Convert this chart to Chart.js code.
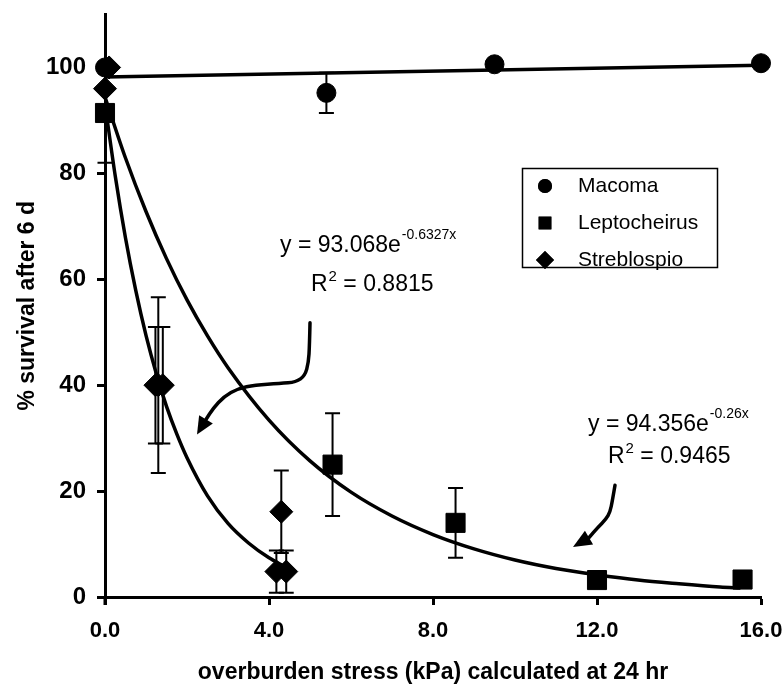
<!DOCTYPE html>
<html><head><meta charset="utf-8">
<script src="https://cdn.jsdelivr.net/npm/chart.js@4.4.1/dist/chart.umd.min.js"></script>
<style>html,body{margin:0;padding:0;background:#fff}#wrap{width:784px;height:689px}</style>
</head><body><div id="wrap"><canvas id="c"></canvas></div>
<script>
const FONT = "'Liberation Sans', Arial, Helvetica, sans-serif";

// ---- data ----
const seriesNames = ['Macoma', 'Leptocheirus', 'Streblospio'];

const macomaX = [0, 5.4, 9.5, 16];
const macomaY = [100, 95.2, 100.6, 100.8];
const macomaErr = [0, 3.8, 0, 0];

const leptoX = [0, 5.55, 8.55, 12, 15.55];
const leptoY = [91.4, 25.0, 14.0, 3.2, 3.3];
const leptoErr = [9.4, 9.7, 6.6, 0, 0];

const strebloX = [0.1, 0, 1.23, 1.3, 1.41, 4.18, 4.3, 4.42];
const strebloY = [100, 96, 40, 40, 40, 4.8, 16.1, 4.8];
const strebloErr = [0, 0, 11, 16.6, 11, 4.0, 7.8, 4.0];

// trend lines
const macTrendX = [0, 16];
const macTrendY = [98.2, 100.4];

const leptoTrendX = [0, 0.5, 1, 1.5, 2, 2.5, 3, 4, 5, 6, 7, 8, 9, 10, 11, 12, 13, 14, 15, 15.5];
const leptoTrendY = [94.4, 82.9, 72.8, 63.9, 56.1, 49.3, 43.3, 33.4, 25.7, 19.8, 15.3, 11.8, 9.1, 7.0, 5.4, 4.2, 3.2, 2.5, 1.9, 1.7];

const strebloTrendX = [0, 0.25, 0.5, 0.75, 1, 1.25, 1.5, 1.75, 2, 2.5, 3, 3.5, 4, 4.35];
const strebloTrendY = [93.1, 79.5, 67.8, 57.9, 49.4, 42.2, 36.0, 30.8, 26.3, 19.1, 13.9, 10.2, 7.4, 5.9];

const xTicks = [0, 4, 8, 12, 16];
const yTicks = [0, 20, 40, 60, 80, 100];

const eq1 = {main: 'y = 93.068e', sup: '-0.6327x', r2: '= 0.8815'};
const eq2 = {main: 'y = 94.356e', sup: '-0.26x', r2: '= 0.9465'};

// arrow paths in data units
const arrow1 = [[5.000,51.79],[4.988,47.46],[4.963,44.26],[4.878,41.81],[4.659,40.58],[4.268,40.30],[3.659,40.02],[3.244,39.36],[2.902,37.85],[2.634,35.59],[2.463,33.52],[2.244,30.70]];
const arrow2 = [[12.439,21.09],[12.378,18.27],[12.317,16.01],[12.220,14.69],[12.024,13.18],[11.805,11.21],[11.415,9.42]];

const pts = (xs, ys) => xs.map((x, i) => ({x, y: ys[i]}));

const errSets = [
  {xs: macomaX, ys: macomaY, es: macomaErr},
  {xs: leptoX, ys: leptoY, es: leptoErr},
  {xs: strebloX, ys: strebloY, es: strebloErr}
];

function drawArrow(ctx, chart, path) {
  const xs = chart.scales.x, ys = chart.scales.y;
  const p = path.map(([a, b]) => [xs.getPixelForValue(a), ys.getPixelForValue(b)]);
  const n = p.length;
  ctx.save();
  ctx.strokeStyle = '#000'; ctx.fillStyle = '#000';
  ctx.lineWidth = 3.5; ctx.lineJoin = 'round'; ctx.lineCap = 'round';
  ctx.beginPath();
  ctx.moveTo(p[0][0], p[0][1]);
  for (let i = 1; i < n - 2; i++) {
    const mx = (p[i][0] + p[i + 1][0]) / 2, my = (p[i][1] + p[i + 1][1]) / 2;
    ctx.quadraticCurveTo(p[i][0], p[i][1], mx, my);
  }
  ctx.lineTo(p[n - 2][0], p[n - 2][1]);
  ctx.stroke();
  const tip = p[n - 1], base = p[n - 2];
  const dx = tip[0] - base[0], dy = tip[1] - base[1];
  const L = Math.hypot(dx, dy), ux = dx / L, uy = dy / L;
  const hw = 8;
  ctx.beginPath();
  ctx.moveTo(tip[0], tip[1]);
  ctx.lineTo(base[0] - uy * hw, base[1] + ux * hw);
  ctx.lineTo(base[0] + uy * hw, base[1] - ux * hw);
  ctx.closePath();
  ctx.fill();
  ctx.restore();
}

function drawEq(ctx, eq, x, y1, x2, y2) {
  ctx.save();
  ctx.fillStyle = '#000';
  ctx.textBaseline = 'alphabetic'; ctx.textAlign = 'left';
  ctx.font = '23px ' + FONT;
  ctx.fillText(eq.main, x, y1);
  const w = ctx.measureText(eq.main).width;
  ctx.font = '14px ' + FONT;
  ctx.fillText(eq.sup, x + w + 1, y1 - 13);
  ctx.font = '23px ' + FONT;
  ctx.fillText('R', x2, y2);
  const wr = ctx.measureText('R').width;
  ctx.font = '15px ' + FONT;
  ctx.fillText('2', x2 + wr + 1, y2 - 10);
  const w2 = ctx.measureText('2').width;
  ctx.font = '23px ' + FONT;
  ctx.fillText(' ' + eq.r2, x2 + wr + w2 + 1, y2);
  ctx.restore();
}

const annot = {
  id: 'annot',
  beforeDatasetsDraw(chart) {
    const ctx = chart.ctx, xs = chart.scales.x, ys = chart.scales.y;
    ctx.save();
    // short extension of the y axis below zero, as in the original
    ctx.strokeStyle = '#000'; ctx.lineWidth = 3;
    ctx.beginPath();
    ctx.moveTo(xs.left, chart.chartArea.bottom);
    ctx.lineTo(xs.left, chart.chartArea.bottom + 8);
    ctx.stroke();
    ctx.lineWidth = 2;
    errSets.forEach(s => {
      s.xs.forEach((xv, i) => {
        const e = s.es[i];
        if (!e) return;
        const px = xs.getPixelForValue(xv);
        const t = ys.getPixelForValue(s.ys[i] + e), b = ys.getPixelForValue(s.ys[i] - e);
        ctx.beginPath();
        ctx.moveTo(px, t); ctx.lineTo(px, b);
        ctx.moveTo(px - 7.5, t); ctx.lineTo(px + 7.5, t);
        ctx.moveTo(px - 7.5, b); ctx.lineTo(px + 7.5, b);
        ctx.stroke();
      });
    });
    ctx.restore();
  },
  afterDatasetsDraw(chart) {
    const ctx = chart.ctx;
    drawArrow(ctx, chart, arrow1);
    drawArrow(ctx, chart, arrow2);
    drawEq(ctx, eq1, 280, 252, 311, 291);
    drawEq(ctx, eq2, 588, 431, 608, 463);
    // legend
    ctx.save();
    ctx.strokeStyle = '#000'; ctx.lineWidth = 1.5;
    ctx.strokeRect(522.5, 168.5, 195, 99);
    const styles = ['circle', 'rect', 'rectRot'];
    const rads = [7, 9, 9];
    const ly = [186, 223, 260];
    ctx.fillStyle = '#000';
    styles.forEach((st, i) => {
      Chart.helpers.drawPoint(ctx, {pointStyle: st, radius: rads[i], borderWidth: 0, rotation: 0}, 545, ly[i]);
      ctx.fill();
    });
    ctx.font = '21px ' + FONT;
    ctx.textBaseline = 'middle'; ctx.textAlign = 'left';
    seriesNames.forEach((nm, i) => ctx.fillText(nm, 578, ly[i]));
    ctx.restore();
  }
};

const ptBase = {showLine: false, backgroundColor: '#000', borderColor: '#000', borderWidth: 1, clip: false};
const lineBase = {showLine: true, pointRadius: 0, borderColor: '#000', borderWidth: 3.5, fill: false, clip: false, tension: 0.4, cubicInterpolationMode: 'monotone'};

new Chart(document.getElementById('c'), {
  type: 'scatter',
  data: {
    datasets: [
      Object.assign({label: 'Macoma trend', data: pts(macTrendX, macTrendY)}, lineBase, {tension: 0}),
      Object.assign({label: 'Leptocheirus trend', data: pts(leptoTrendX, leptoTrendY)}, lineBase),
      Object.assign({label: 'Streblospio trend', data: pts(strebloTrendX, strebloTrendY)}, lineBase),
      Object.assign({label: seriesNames[0], data: pts(macomaX, macomaY), pointStyle: 'circle', pointRadius: 9.5}, ptBase),
      Object.assign({label: seriesNames[1], data: pts(leptoX, leptoY), pointStyle: 'rect', pointRadius: 13.5}, ptBase),
      Object.assign({label: seriesNames[2], data: pts(strebloX, strebloY), pointStyle: 'rectRot', pointRadius: 11.5}, ptBase)
    ]
  },
  options: {
    responsive: true, maintainAspectRatio: false, animation: false, devicePixelRatio: 1,
    layout: {padding: {top: 12, right: 23, left: 0, bottom: 0}},
    plugins: {legend: {display: false}, tooltip: {enabled: false}},
    scales: {
      x: {
        type: 'linear', min: 0, max: 16,
        afterBuildTicks: s => { s.ticks = xTicks.map(v => ({value: v})); },
        afterFit: s => { s.height = 92; s.paddingLeft = 0; s.paddingRight = 0; },
        ticks: {callback: v => Number(v).toFixed(1), color: '#000', font: {family: FONT, size: 22, weight: 'bold'}, padding: 13, maxRotation: 0, autoSkip: false},
        grid: {drawOnChartArea: false, drawTicks: true, tickLength: 8, tickWidth: 3, tickColor: '#000'},
        border: {display: true, width: 3, color: '#000'},
        title: {display: true, text: 'overburden stress (kPa) calculated at 24 hr', color: '#000', font: {family: FONT, size: 23, weight: 'bold'}, padding: {top: 0, bottom: 3}}
      },
      y: {
        type: 'linear', min: 0, max: 110,
        afterBuildTicks: s => { s.ticks = yTicks.map(v => ({value: v})); },
        afterFit: s => { s.width = 105; s.paddingTop = 0; s.paddingBottom = 0; },
        ticks: {color: '#000', font: {family: FONT, size: 24, weight: 'bold'}, padding: 11, autoSkip: false},
        grid: {drawOnChartArea: false, drawTicks: true, tickLength: 8, tickWidth: 3, tickColor: '#000'},
        border: {display: true, width: 3, color: '#000'},
        title: {display: true, text: '% survival after 6 d', color: '#000', font: {family: FONT, size: 23, weight: 'bold'}, padding: {top: 14, bottom: 0}}
      }
    }
  },
  plugins: [annot]
});
</script>
</body></html>
